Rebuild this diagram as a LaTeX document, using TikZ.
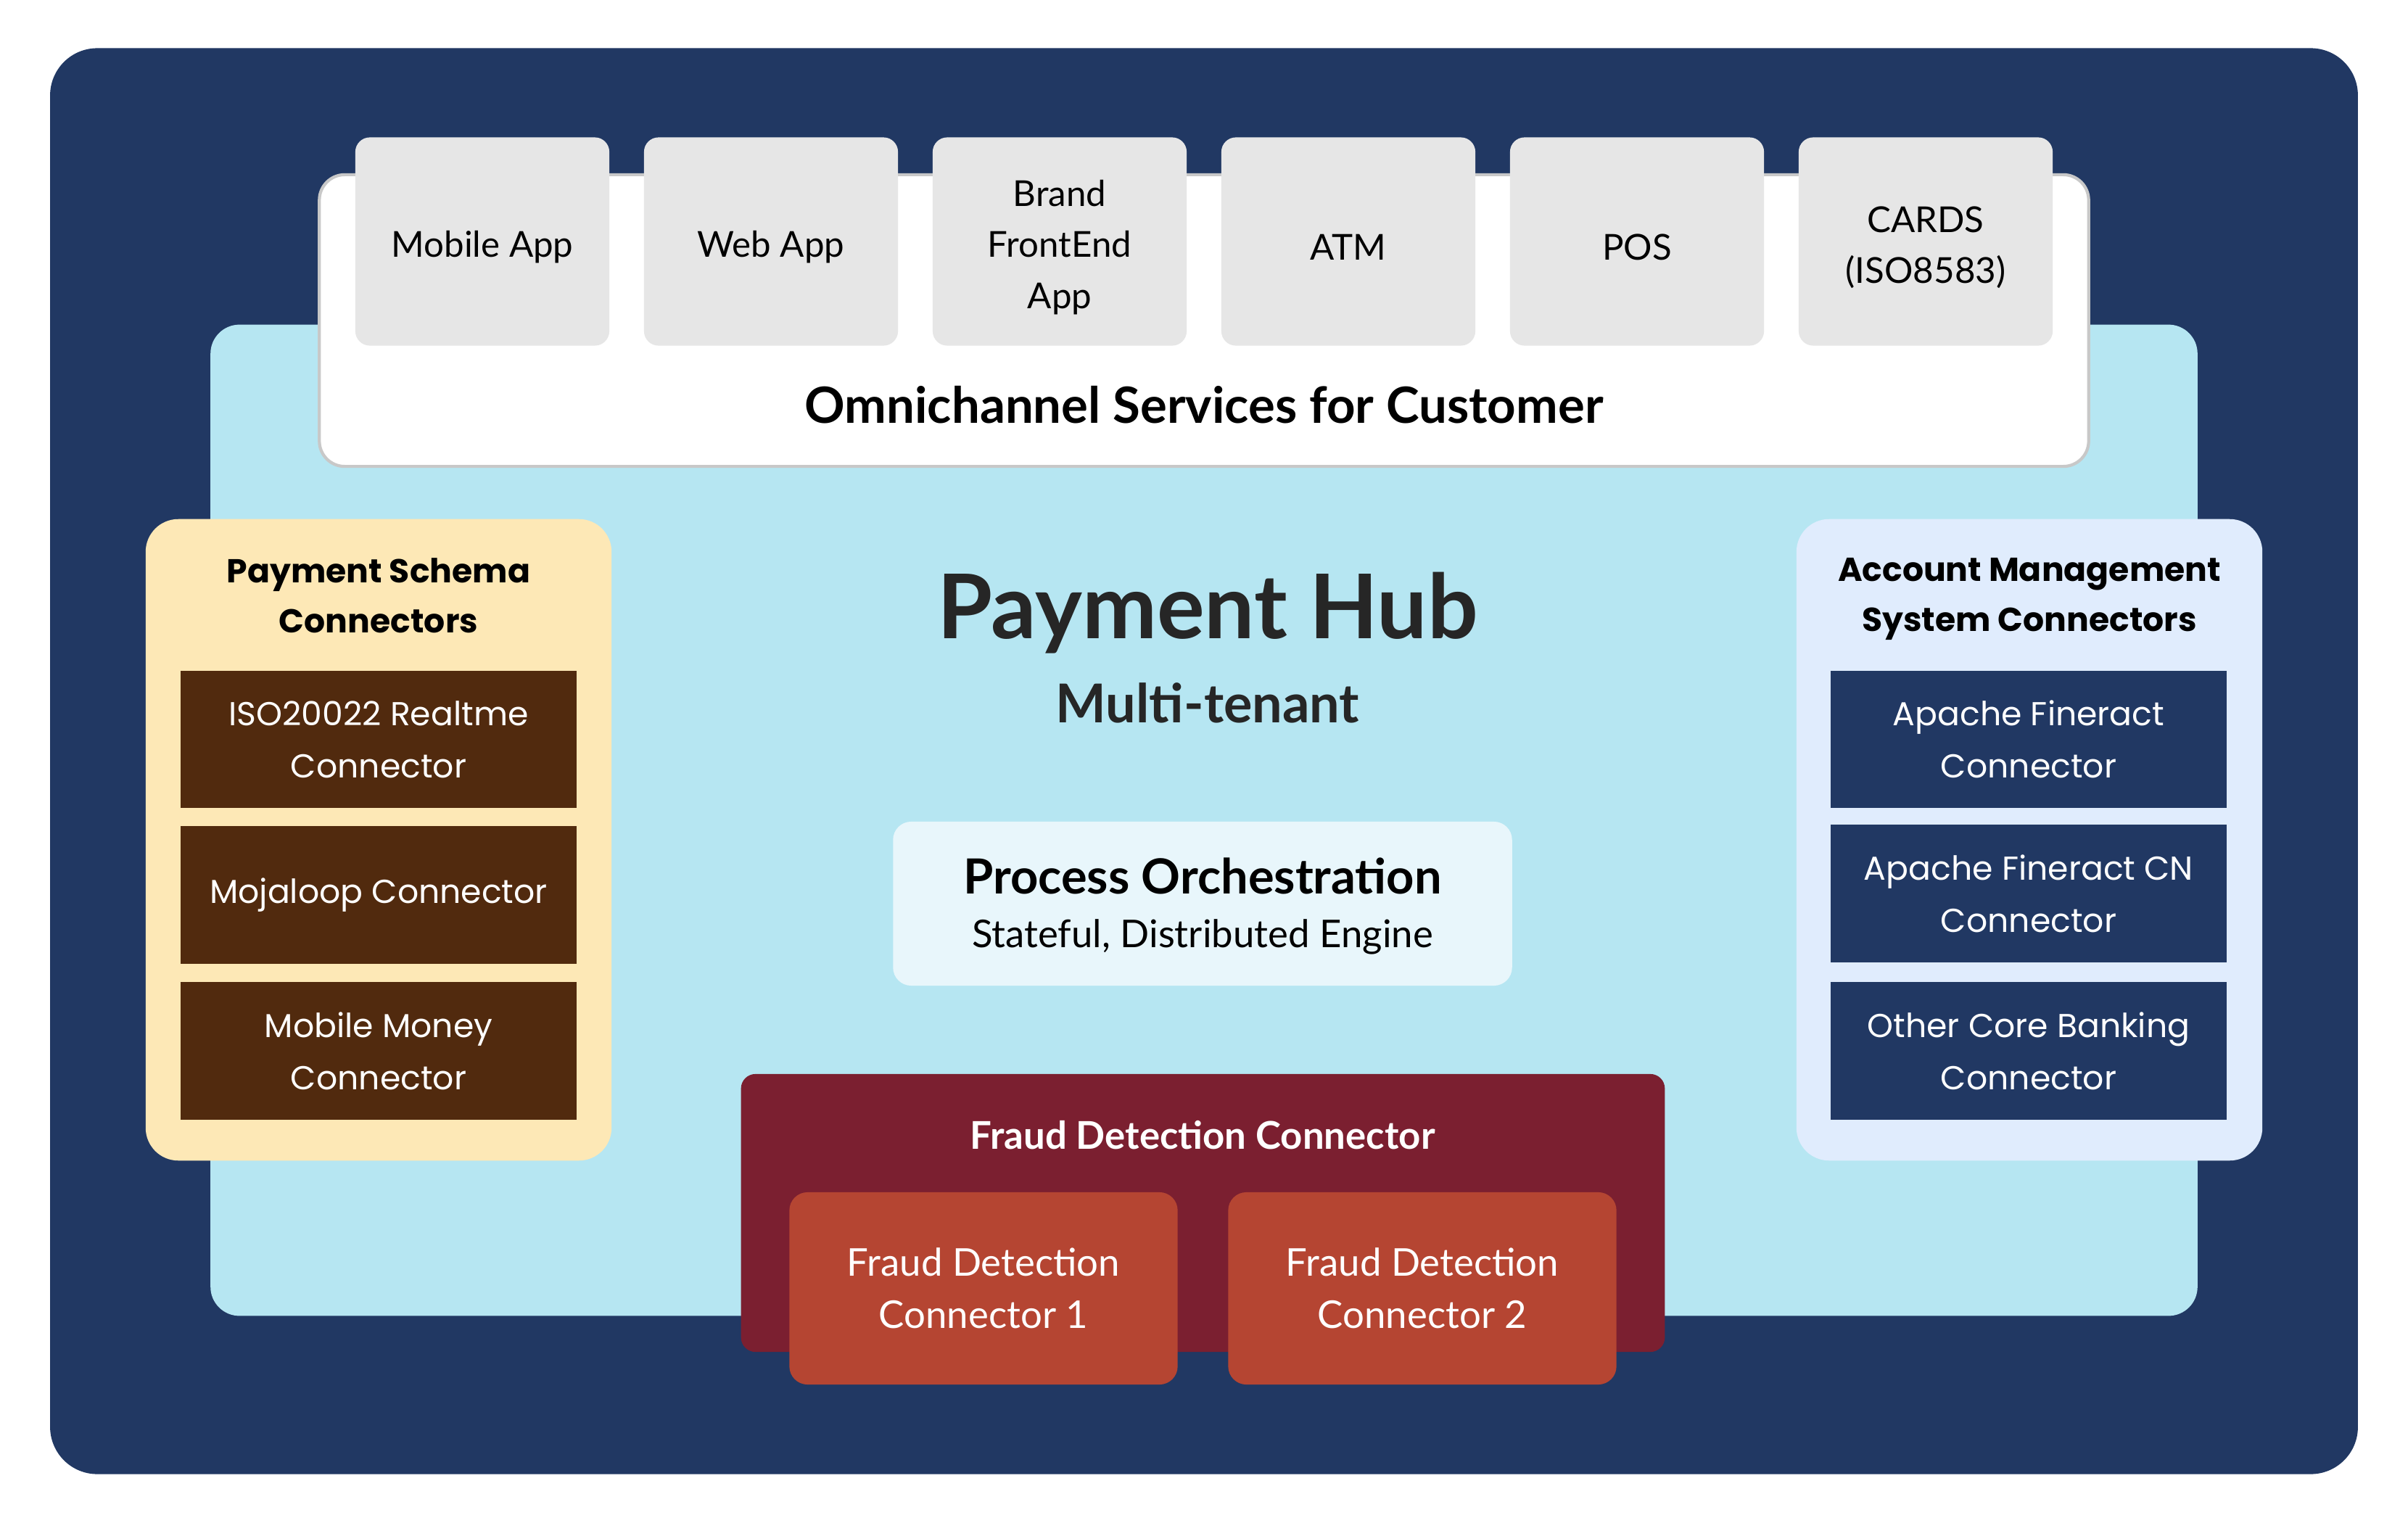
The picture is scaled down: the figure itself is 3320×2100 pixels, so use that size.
\documentclass[tikz,border=0pt]{standalone}
\usepackage{fontspec}
\setmainfont{Lato}
\newfontfamily\widefont{Poppins}

\definecolor{hubnavy}{HTML}{213863}
\definecolor{hubsky}{HTML}{B6E6F2}
\definecolor{omniline}{HTML}{C8C8C8}
\definecolor{changray}{HTML}{E6E6E6}
\definecolor{orchfill}{HTML}{E8F6FB}
\definecolor{fraudred}{HTML}{7B1F30}
\definecolor{fraudbrick}{HTML}{B54532}
\definecolor{schemayellow}{HTML}{FDE8B6}
\definecolor{schemabrown}{HTML}{512A0E}
\definecolor{acctblue}{HTML}{E0ECFD}

\tikzset{every picture/.style={line width=0.75pt},
  panel/.style={inner sep=0pt},
  chanbox/.style={panel, fill=changray, rounded corners=0.2cm, minimum width=3.5cm,
    minimum height=2.87cm},
  chantext/.style={align=center, font=\fontsize{14}{20}\selectfont},
  conbox/.style={panel, minimum width=5.46cm, minimum height=1.89cm, align=center,
    text=white, font=\widefont\fontsize{13}{20.5}\selectfont},
  sidetitle/.style={align=center, font=\widefont\bfseries\fontsize{13}{19.6}\selectfont},
  fraudbox/.style={panel, fill=fraudbrick, rounded corners=0.25cm, minimum width=5.35cm,
    minimum height=2.65cm, align=center, text=white, font=\fontsize{15}{20.5}\selectfont}}

\begin{document}
\begin{tikzpicture}[x=0.01cm, y=-0.01cm]
    \useasboundingbox (0,0) rectangle (3320,2100);
    % frame and hub
    \node[panel, fill=hubnavy, rounded corners=0.65cm, minimum width=31.8cm, minimum height=19.65cm] (frame) at (1660,1049.5) {};
    \node[panel, fill=hubsky, rounded corners=0.4cm, minimum width=27.38cm, minimum height=13.66cm] (hub) at (1660,1131) {};
    % omnichannel
    \node[panel, fill=white, draw=omniline, line width=1.2pt, rounded corners=0.35cm, minimum width=24.38cm, minimum height=4.02cm] (omni) at (1660,442) {};
    \foreach \txt [count=\i from 0] in {Mobile App, Web App, {Brand\\FrontEnd\\App}, ATM, POS, {CARDS\\(ISO8583)}}{
        \node[chanbox] (ch\i) at ({665+398*\i},333) {};
        \node[chantext] (chlabel\i) at ({665+398*\i},341) {\txt};
    }
    \node[font=\bfseries\fontsize{19.6}{23}\selectfont] (omnilabel) at (1660,558) {Omnichannel Services for Customer};
    % hub titles
    \node[font=\bfseries\fontsize{35}{40}\selectfont, text=black!85] (hubtitle) at (1665,845) {Payment Hub};
    \node[font=\bfseries\fontsize{21}{25}\selectfont, text=black!85] (tenant) at (1665,969) {Multi-tenant};
    % orchestration
    \node[panel, fill=orchfill, rounded corners=0.25cm, minimum width=8.53cm, minimum height=2.26cm] (orch) at (1658,1246) {};
    \node[font=\bfseries\fontsize{19}{22}\selectfont] (orchtitle) at (1658,1208) {Process Orchestration};
    \node[font=\fontsize{15}{18}\selectfont] (orchsub) at (1658,1292) {Stateful, Distributed Engine};
    % fraud detection
    \node[panel, fill=fraudred, rounded corners=0.2cm, minimum width=12.73cm, minimum height=3.83cm] (fraud) at (1658.5,1672.5) {};
    \node[font=\bfseries\fontsize{15}{18}\selectfont, text=white] (fraudtitle) at (1658,1565) {Fraud Detection Connector};
    \node[fraudbox] (fd1) at (1356,1776.5) {Fraud Detection\\Connector 1};
    \node[fraudbox] (fd2) at (1961,1776.5) {Fraud Detection\\Connector 2};
    % payment schema connectors
    \node[panel, fill=schemayellow, rounded corners=0.45cm, minimum width=6.42cm, minimum height=8.84cm] (schema) at (522,1158) {};
    \node[sidetitle] (schematitle) at (522,821) {Payment Schema\\Connectors};
    \node[conbox, fill=schemabrown] (iso) at (522,1019.5) {ISO20022 Realtme\\Connector};
    \node[conbox, fill=schemabrown] (moja) at (522,1234) {Mojaloop Connector};
    \node[conbox, fill=schemabrown] (momo) at (522,1449) {Mobile Money\\Connector};
    % account management connectors
    \node[panel, fill=acctblue, rounded corners=0.45cm, minimum width=6.42cm, minimum height=8.84cm] (acct) at (2798,1158) {};
    \node[sidetitle] (accttitle) at (2798,826) {Account Management\\System Connectors};
    \node[conbox, fill=hubnavy] (fineract) at (2797,1019.5) {Apache Fineract\\Connector};
    \node[conbox, fill=hubnavy] (fineractcn) at (2797,1232) {Apache Fineract CN\\Connector};
    \node[conbox, fill=hubnavy] (corebank) at (2797,1449) {Other Core Banking\\Connector};
\end{tikzpicture}
\end{document}
